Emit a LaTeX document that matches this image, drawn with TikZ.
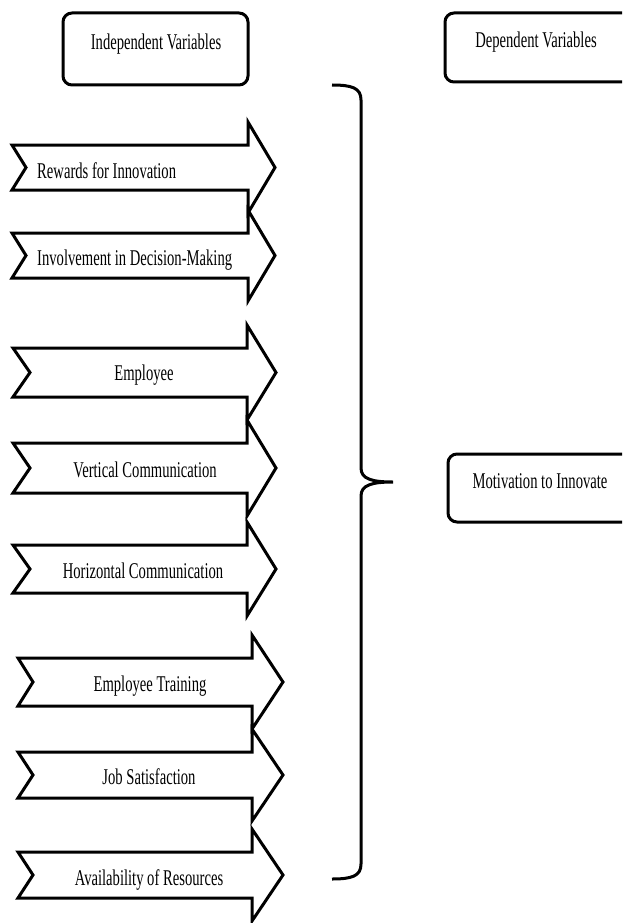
\documentclass[tikz,border=0pt]{standalone}
\usepackage{fontspec}
\setmainfont[FakeStretch=0.65]{Liberation Serif}
\tikzset{
  arrowline/.style={draw=black, fill=white, line width=3pt, line join=miter},
  hdrbox/.style={draw=black, fill=white, line width=3pt, rounded corners=9pt, inner sep=0pt},
  lbl/.style={inner sep=0pt, font=\fontsize{22.5}{24}\selectfont},
  bracestyle/.style={draw=black, line width=3pt, line cap=butt}
}
\newcommand\chev[6]{%
  \pgfmathsetmacro\chmid{(#5+#6)/2}%
  \pgfmathsetmacro\chtop{#5-23}%
  \pgfmathsetmacro\chbot{#6+23}%
  \draw[arrowline] (#1,#5) -- (#3,#5) -- (#3,\chtop) -- (#4,\chmid) -- (#3,\chbot) -- (#3,#6) -- (#1,#6) -- (#2,\chmid) -- cycle;%
}
\begin{document}
\begin{tikzpicture}[x=1pt,y=-1pt]
\useasboundingbox (0,0) rectangle (622,923);
\clip (0,0) rectangle (622,923);
\fill[white] (0,0) rectangle (622,923);

% header boxes
\node[hdrbox, minimum width=185pt, minimum height=72pt] (indbox) at (155.5,49) {};
\node[lbl, anchor=base] (indtxt) at (156,50) {Independent Variables};
\node[hdrbox, minimum width=215pt, minimum height=69pt] (depbox) at (552.5,47.5) {};
\node[lbl, anchor=base] (deptxt) at (536,48) {Dependent Variables};
\node[hdrbox, minimum width=212pt, minimum height=68pt] (motbox) at (554,488) {};
\node[lbl, anchor=base] (mottxt) at (540,488) {Motivation to Innovate};

% arrows
\chev{12}{26}{248}{275}{145}{190}
\node[lbl, anchor=base west] (t1) at (37,178) {Rewards for Innovation};
\chev{12}{26}{248}{275}{233}{278}
\node[lbl, anchor=base west] (t2) at (37,265) {Involvement in Decision-Making};
\chev{13}{30}{247}{276}{348}{397}
\node[lbl, anchor=base] (t3) at (144,380) {Employee};
\chev{13}{30}{247}{276}{443}{493}
\node[lbl, anchor=base] (t4) at (145,477) {Vertical Communication};
\chev{13}{30}{247}{276}{545}{593}
\node[lbl, anchor=base] (t5) at (143,578) {Horizontal Communication};
\chev{18}{33}{252}{283}{658}{706}
\node[lbl, anchor=base] (t6) at (150,691) {Employee Training};
\chev{18}{33}{252}{283}{752}{798}
\node[lbl, anchor=base] (t7) at (149,784) {Job Satisfaction};
\chev{18}{33}{252}{283}{852}{898}
\node[lbl, anchor=base] (t8) at (149,885) {Availability of Resources};

% brace
\draw[bracestyle] (332,85) .. controls (352,85) and (361,88) .. (361,100)
  -- (361,468) .. controls (361,479) and (372,482) .. (393,482)
  .. controls (372,482) and (361,485) .. (361,496)
  -- (361,864) .. controls (361,876) and (352,879) .. (332,879);
\end{tikzpicture}
\end{document}
